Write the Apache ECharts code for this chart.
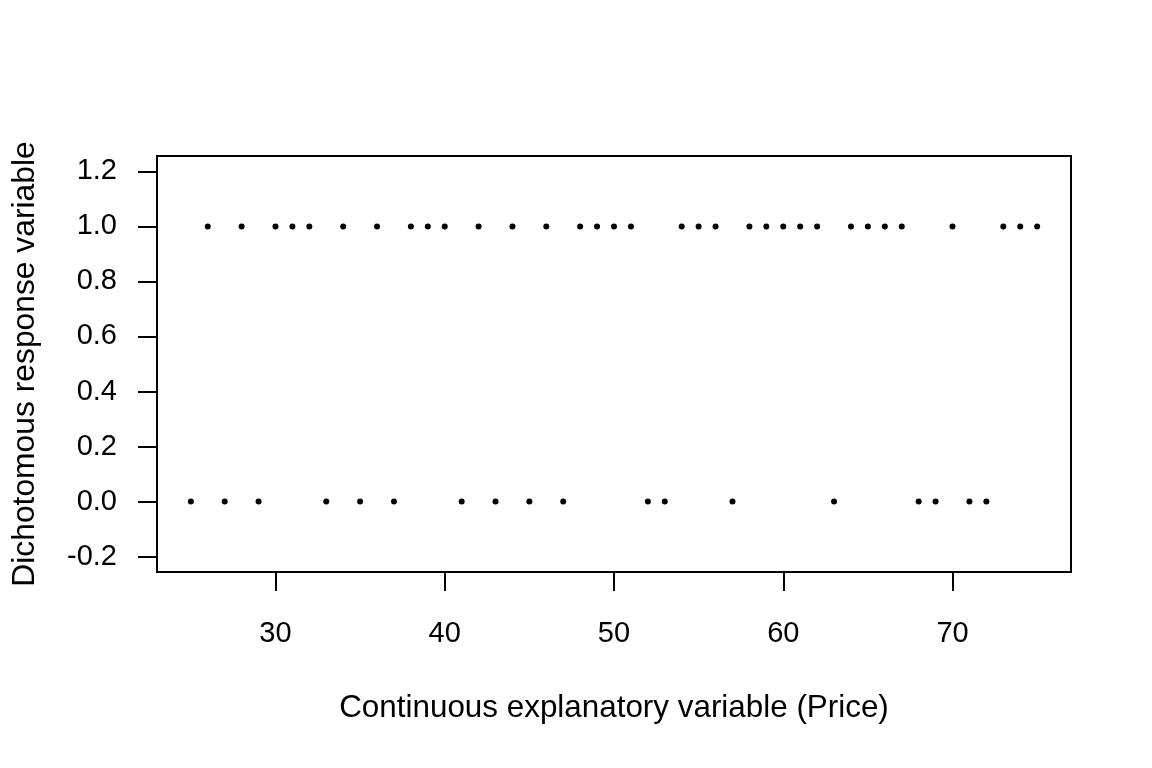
<!DOCTYPE html>
<html lang="en">
<head>
    <meta charset="UTF-8">
    <title>Dichotomous response</title>
    <style>
        html, body { margin: 0; padding: 0; background: #fff; }
        #main { width: 1152px; height: 768px; }
    </style>
</head>
<body>
    <div id="main"></div>
    <script src="https://cdn.jsdelivr.net/npm/echarts@6/dist/echarts.min.js"></script>
    <script>
        // prices where the response was 0 and where it was 1
        var priceAtZero = [25, 27, 29, 33, 35, 37, 41, 43, 45, 47, 52, 53, 57, 63, 68, 69, 71, 72];
        var priceAtOne = [26, 28, 30, 31, 32, 34, 36, 38, 39, 40, 42, 44, 46, 48, 49, 50, 51,
                          54, 55, 56, 58, 59, 60, 61, 62, 64, 65, 66, 67, 70, 73, 74, 75];
        var xTicks = [30, 40, 50, 60, 70];
        var yTicks = [-0.2, 0, 0.2, 0.4, 0.6, 0.8, 1.0, 1.2];

        var points = [];
        priceAtZero.forEach(function (p) { points.push([p, 0]); });
        priceAtOne.forEach(function (p) { points.push([p, 1]); });

        var font = 'Liberation Sans, Arial, sans-serif';
        var myChart = echarts.init(document.getElementById('main'));
        var option = {
            animation: false,
            backgroundColor: '#fff',
            grid: {
                left: 157, right: 81, top: 156, bottom: 196,
                show: true, borderColor: '#000', borderWidth: 2, backgroundColor: 'transparent'
            },
            xAxis: {
                type: 'value',
                min: 23, max: 77,
                name: 'Continuous explanatory variable (Price)',
                nameLocation: 'middle',
                nameGap: 121,
                nameTextStyle: { color: '#000', fontSize: 31.4, fontFamily: font },
                axisLine: { show: false, onZero: false },
                axisTick: { show: true, length: 19, lineStyle: { color: '#000', width: 2 }, customValues: xTicks },
                axisLabel: { color: '#000', fontSize: 29, fontFamily: font, margin: 47, customValues: xTicks },
                splitLine: { show: false }
            },
            yAxis: {
                type: 'value',
                min: -0.256, max: 1.256,
                name: 'Dichotomous response variable',
                nameLocation: 'middle',
                nameGap: 116,
                nameTextStyle: { color: '#000', fontSize: 31.8, fontFamily: font },
                axisLine: { show: false, onZero: false },
                axisTick: { show: true, length: 19, lineStyle: { color: '#000', width: 2 }, customValues: yTicks },
                axisLabel: {
                    color: '#000', fontSize: 29, fontFamily: font, margin: 40, customValues: yTicks,
                    formatter: function (v) { return v.toFixed(1); }
                },
                splitLine: { show: false }
            },
            series: [{
                type: 'scatter',
                data: points,
                symbol: 'circle',
                symbolSize: 6,
                itemStyle: { color: '#000', opacity: 1 }
            }]
        };
        myChart.setOption(option);
    </script>
</body>
</html>
